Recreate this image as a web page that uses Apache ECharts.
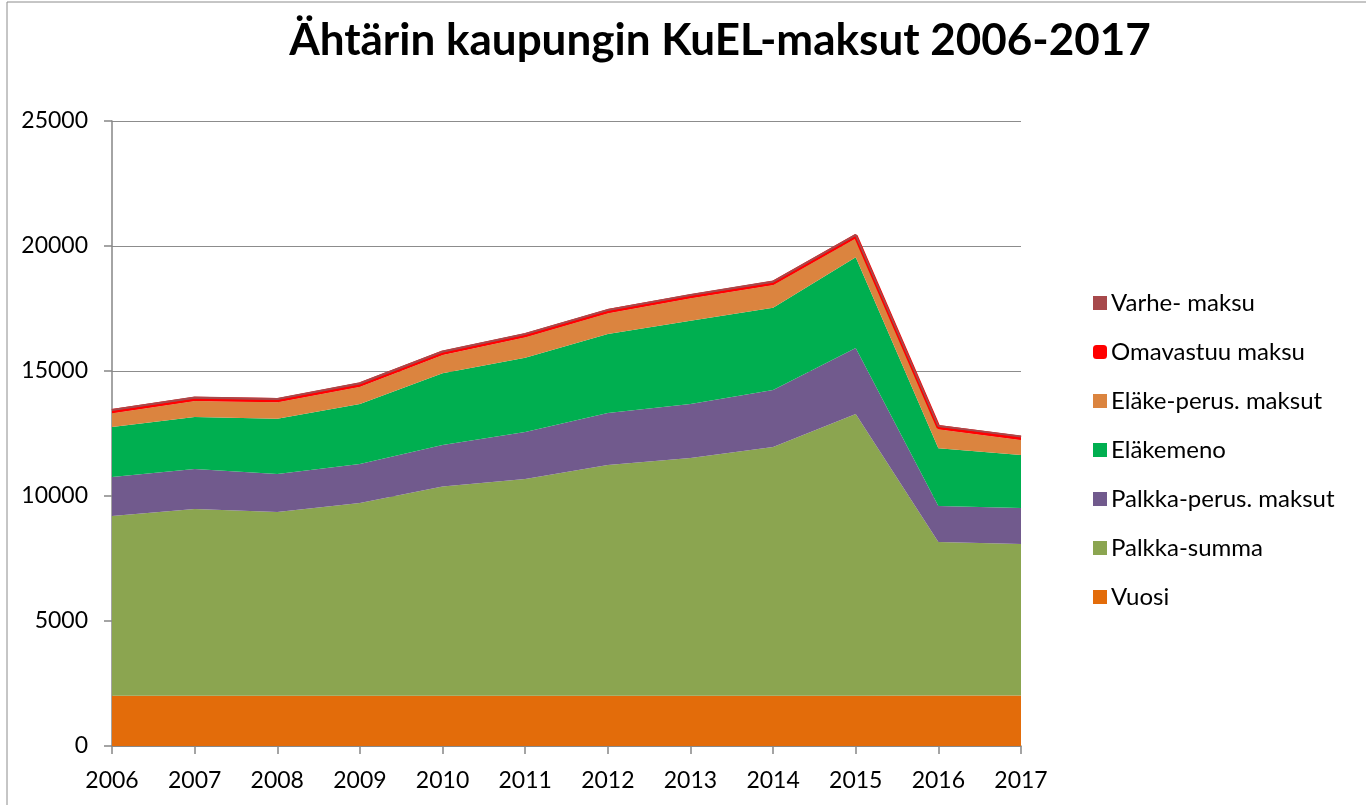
<!DOCTYPE html>
<html>
<head>
<meta charset="utf-8">
<script src="https://cdn.jsdelivr.net/npm/echarts@6/dist/echarts.min.js"></script>
<style>
html,body{margin:0;padding:0;background:#fff;}
#chart{width:1366px;height:805px;}
</style>
</head>
<body>
<div id="chart"></div>
<script>
const years = ['2006','2007','2008','2009','2010','2011','2012','2013','2014','2015','2016','2017'];
const vuosi = [2006,2007,2008,2009,2010,2011,2012,2013,2014,2015,2016,2017];
const palkkaSumma = [7194,7473,7352,7711,8367,8669,9228,9507,9946,11265,6144,6063];
const palkkaPerus = [1560,1600,1520,1560,1667,1880,2080,2160,2280,2640,1440,1440];
const elakemeno = [2000,2080,2213,2400,2867,2973,3160,3333,3293,3627,2307,2120];
const elakePerus = [547,640,653,693,733,813,827,893,907,760,760,600];
const omavastuu = [90,90,90,90,90,90,90,90,90,90,90,90];
const varhe = [50,50,50,50,50,50,50,50,50,50,50,50];
const yTicks = [0,5000,10000,15000,20000,25000];

const names = ['Vuosi','Palkka-summa','Palkka-perus. maksut','Eläkemeno','Eläke-perus. maksut','Omavastuu maksu','Varhe- maksu'];
const datas = [vuosi,palkkaSumma,palkkaPerus,elakemeno,elakePerus,omavastuu,varhe];
const colors = ['#E36C0A','#8BA550','#715A8D','#00AF50','#DB843F','#FF0000','#A7494B'];

const font = 'Lato, "Open Sans", sans-serif';
const series = names.map((n,i)=>({
  name:n, type:'line', stack:'total', data:datas[i],
  symbol:'none', smooth:false,
  lineStyle: i===5 ? {width:4,color:'#FF0000'} : (i===6 ? {width:1.8,color:'#A7494B'} : {width:0}),
  areaStyle:{color:colors[i],opacity:1},
  itemStyle:{color:colors[i]},
  z: 2+i
}));

const chart = echarts.init(document.getElementById('chart'),null,{renderer:'canvas'});
chart.setOption({
  animation:false,
  backgroundColor:'#fff',
  title:{
    text:'Ähtärin kaupungin KuEL-maksut 2006-2017',
    left:715, top:14, textAlign:'center',
    textStyle:{fontFamily:font,fontWeight:'bold',fontSize:44,color:'#000'}
  },
  graphic:[{type:'rect',shape:{x:7,y:2,width:1400,height:900},style:{fill:'none',stroke:'#8c8c8c',lineWidth:1},silent:true}],
  legend:{
    orient:'vertical', left:1088, top:286, itemGap:25,
    itemWidth:14, itemHeight:14,
    data: names.slice().reverse().map(n=>({name:n, icon: n==='Omavastuu maksu'?'roundRect':'rect'})),
    textStyle:{fontFamily:font,fontSize:24,color:'#000',padding:[0,0,0,-1]}
  },
  grid:{left:112,right:345,top:121,bottom:59,containLabel:false},
  xAxis:{
    type:'category', data:years, boundaryGap:false,
    axisLine:{lineStyle:{color:'#868686',width:1.5}},
    axisTick:{show:true,length:8,alignWithLabel:true,lineStyle:{color:'#868686',width:1.5}},
    axisLabel:{fontFamily:font,fontSize:23,color:'#000',margin:23},
    splitLine:{show:false}
  },
  yAxis:{
    type:'value', min:0, max:25000, interval:5000,
    axisLine:{show:true,lineStyle:{color:'#868686',width:1.5}},
    axisTick:{show:true,length:8,lineStyle:{color:'#868686',width:1.5}},
    axisLabel:{fontFamily:font,fontSize:23,color:'#000',margin:24,
      formatter:v=>yTicks.includes(v)?String(v):''},
    splitLine:{show:true,lineStyle:{color:'#8c8c8c',width:1.2}}
  },
  series: series
});
</script>
</body>
</html>
